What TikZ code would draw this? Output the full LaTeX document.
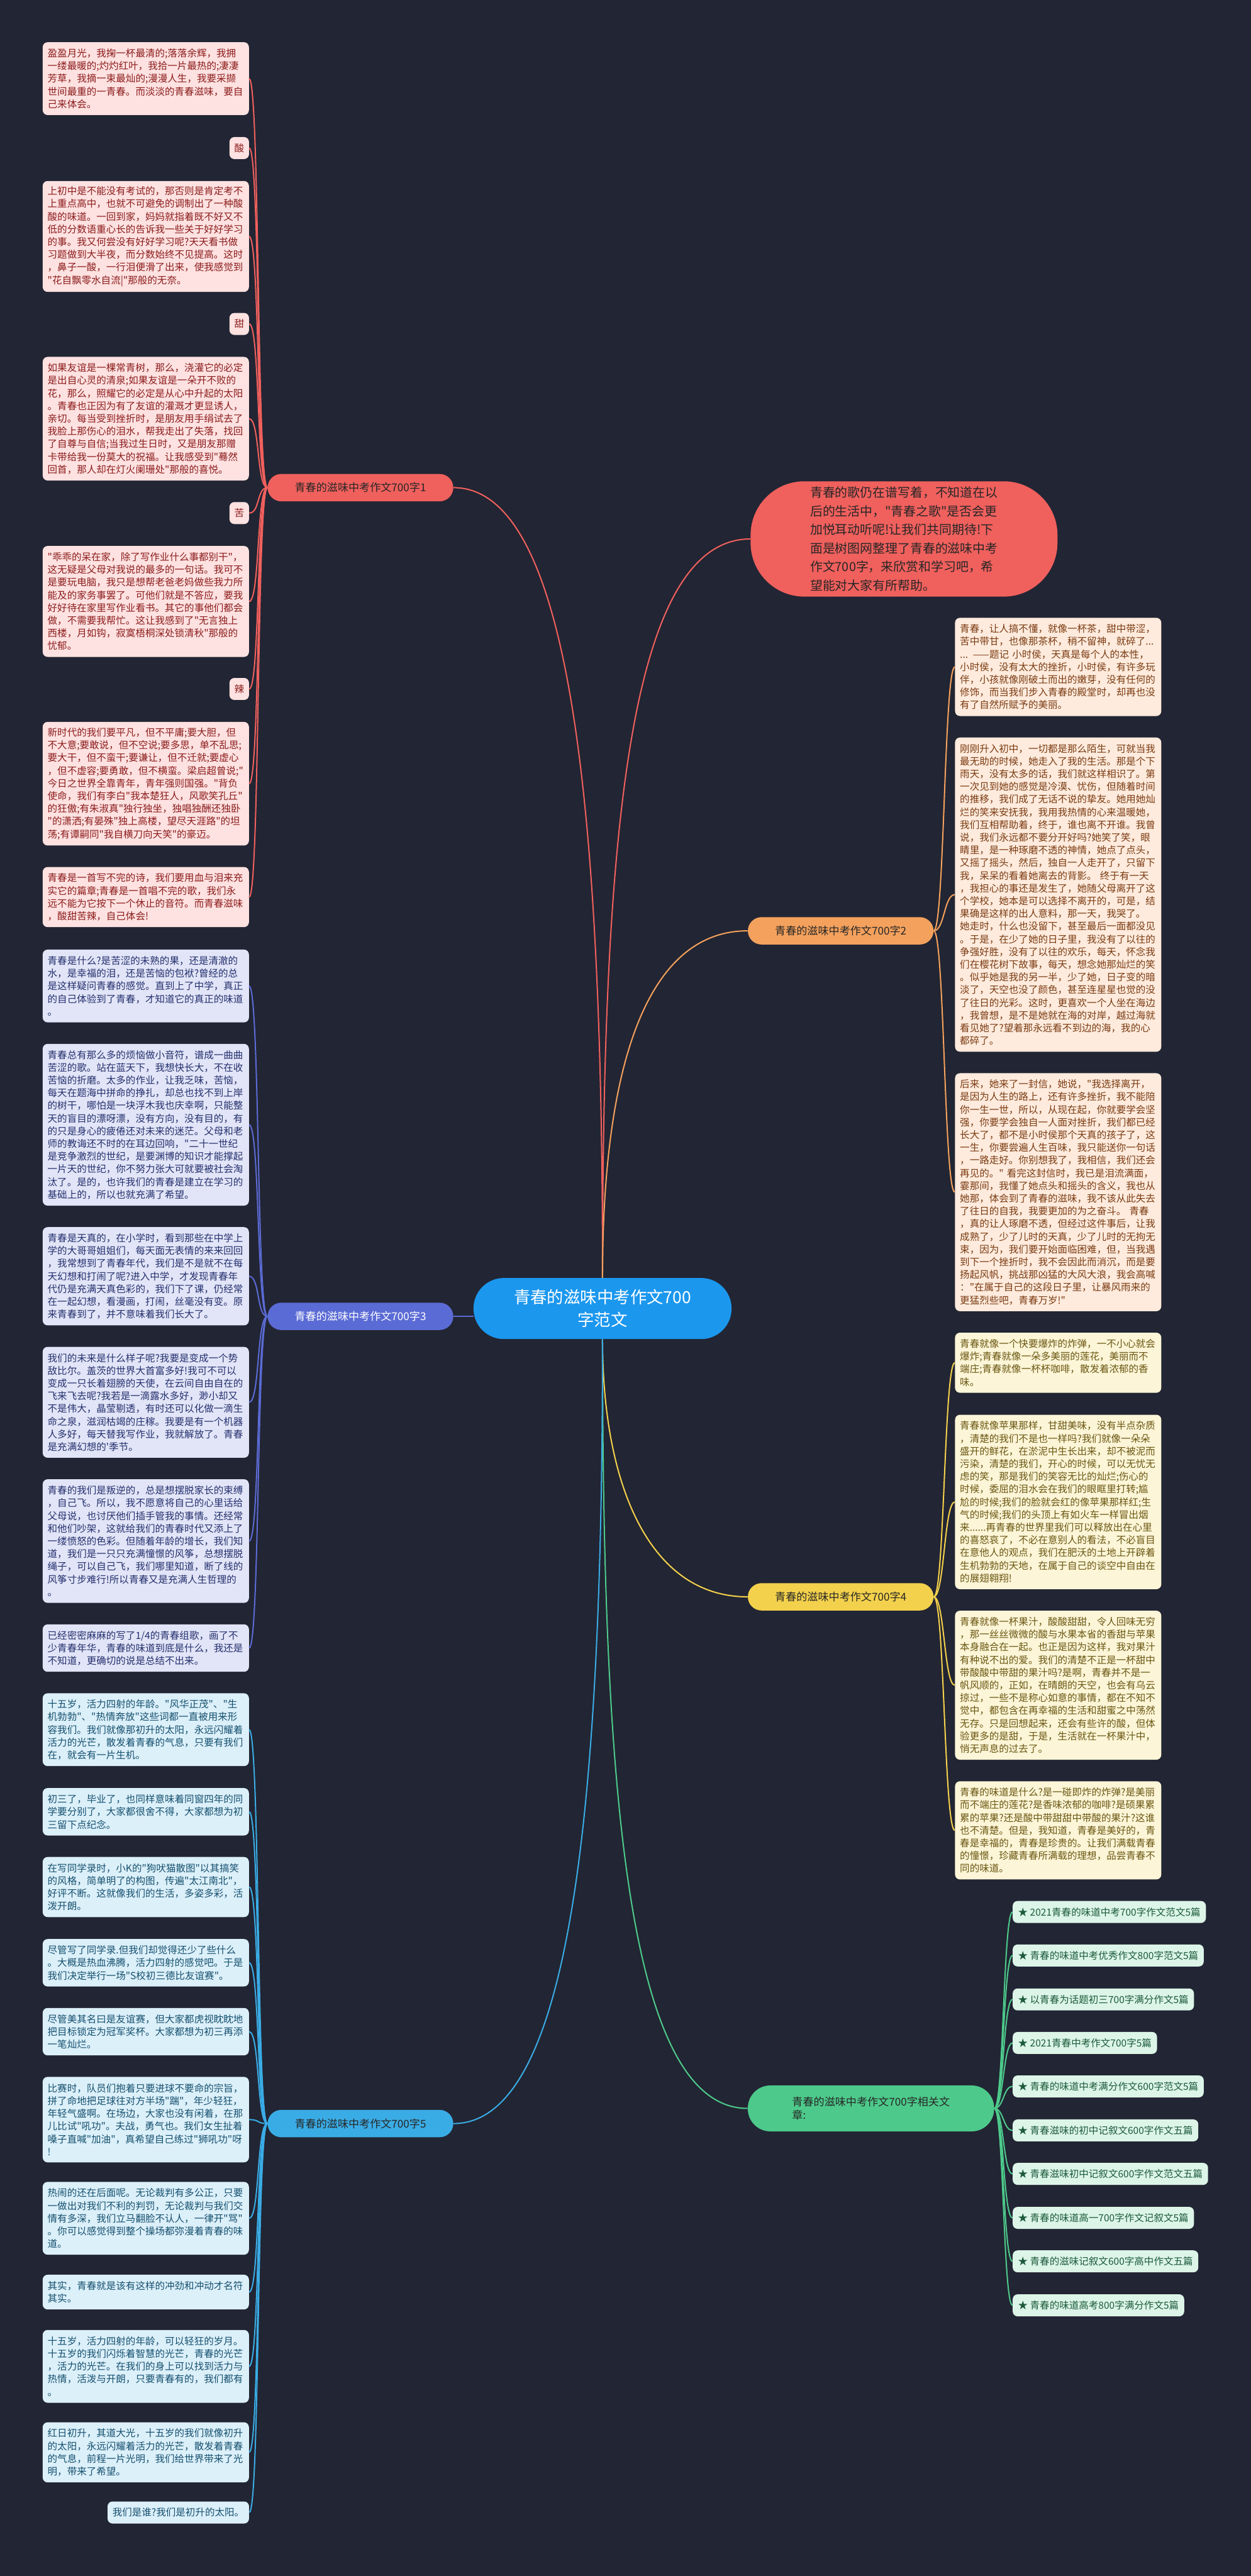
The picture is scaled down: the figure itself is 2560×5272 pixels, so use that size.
\documentclass[tikz,border=0pt]{standalone}
\usepackage{fontspec}
\newfontfamily\cjk{Noto Sans CJK SC}
\newcommand\bodyf{\cjk\fontsize{10pt}{13pt}\selectfont}
\newcommand\labf{\cjk\fontsize{11pt}{14pt}\selectfont}
\newcommand\ctrf{\cjk\fontsize{17pt}{23pt}\selectfont}
\newcommand\rnf{\cjk\fontsize{12.8pt}{19pt}\selectfont}
\definecolor{bgc}{HTML}{222533}
\definecolor{redl}{HTML}{F0605D}\definecolor{redf}{HTML}{FDE2E1}\definecolor{redt}{HTML}{8C1C1C}
\definecolor{purl}{HTML}{5B6BD5}\definecolor{purf}{HTML}{E2E5F7}\definecolor{purt}{HTML}{24306E}
\definecolor{blul}{HTML}{3AACE5}\definecolor{bluf}{HTML}{DCF0FA}\definecolor{blut}{HTML}{15506E}
\definecolor{oral}{HTML}{F4A15D}\definecolor{oraf}{HTML}{FEEBDD}\definecolor{orat}{HTML}{7A3B12}
\definecolor{yell}{HTML}{F3D14C}\definecolor{yelf}{HTML}{FCF5D7}\definecolor{yelt}{HTML}{6A5712}
\definecolor{grel}{HTML}{4DCA8B}\definecolor{gref}{HTML}{DCF5E8}\definecolor{gret}{HTML}{1D5A3B}
\definecolor{ctrc}{HTML}{1B97EE}
\begin{document}
\begin{tikzpicture}[x=0.5pt,y=-0.5pt,
  box/.style={rounded corners=5pt, align=left, text width=201pt, inner xsep=5pt, inner ysep=0pt, anchor=north west, font=\bodyf},
  nl/.style={minimum height=13pt*#1+9.5pt},
  tag/.style={rounded corners=5pt, inner xsep=5pt, inner ysep=0pt, minimum height=22.5pt, font=\bodyf, anchor=east},
  lab/.style={rounded corners=14pt, minimum width=190pt, minimum height=28pt, inner xsep=8pt, inner ysep=0pt, font=\labf},
  item/.style={rounded corners=5pt, inner xsep=5.5pt, inner ysep=0pt, minimum height=22.5pt, font=\bodyf, anchor=west, fill=gref, text=gret},
  rb/.style={box, fill=redf, text=redt}, rt/.style={tag, fill=redf, text=redt},
  pb/.style={box, fill=purf, text=purt},
  bb/.style={box, fill=bluf, text=blut},
  ob/.style={box, fill=oraf, text=orat},
  yb/.style={box, fill=yelf, text=yelt},
  conn/.style={line width=1.3pt}
]
\fill[bgc] (0,0) rectangle (2560,5272);

% center
\node[fill=ctrc, text=white, rounded corners=31pt, minimum width=264pt, minimum height=62.5pt, align=center, font=\ctrf] (ctr) at (1233,2678) {青春的滋味中考作文700\\字范文};

% red intro node
\node[fill=redl, text=black!85, rounded corners=55pt, minimum width=314pt, minimum height=118pt, align=left, font=\rnf] (rn) at (1850,1103) {青春的歌仍在谱写着，不知道在以\\后的生活中，"青春之歌"是否会更\\加悦耳动听呢!让我们共同期待!下\\面是树图网整理了青春的滋味中考\\作文700字，来欣赏和学习吧，希\\望能对大家有所帮助。};

% branch labels
\node[lab, fill=redl, text=black!85, anchor=east] (L1) at (928,998) {青春的滋味中考作文700字1};
\node[lab, fill=purl, text=white, anchor=east] (L3) at (928,2694) {青春的滋味中考作文700字3};
\node[lab, fill=blul, text=black!85, anchor=east] (L5) at (928,4346) {青春的滋味中考作文700字5};
\node[lab, fill=oral, text=black!85, anchor=west] (L2) at (1530,1905) {青春的滋味中考作文700字2};
\node[lab, fill=yell, text=black!85, anchor=west] (L4) at (1530,3268) {青春的滋味中考作文700字4};
\node[lab, fill=grel, text=black!85, anchor=west, minimum width=252pt, minimum height=47pt, rounded corners=23pt, align=left] (LG) at (1530,4315) {青春的滋味中考作文700字相关文\\章:};

% branch 1 children
\node[rb, nl=5] (a1) at (87,86) {盈盈月光，我掬一杯最清的;落落余辉，我拥\\一缕最暖的;灼灼红叶，我拾一片最热的;凄凄\\芳草，我摘一束最灿的;漫漫人生，我要采撷\\世间最重的一青春。而淡淡的青春滋味，要自\\己来体会。};
\node[rt] (a2) at (510,303) {酸};
\node[rb, nl=8] (a3) at (87,370) {上初中是不能没有考试的，那否则是肯定考不\\上重点高中，也就不可避免的调制出了一种酸\\酸的味道。一回到家，妈妈就指着既不好又不\\低的分数语重心长的告诉我一些关于好好学习\\的事。我又何尝没有好好学习呢?天天看书做\\习题做到大半夜，而分数始终不见提高。这时\\，鼻子一酸，一行泪便滑了出来，使我感觉到\\"花自飘零水自流|"那般的无奈。};
\node[rt] (a4) at (510,663) {甜};
\node[rb, nl=9] (a5) at (87,730) {如果友谊是一棵常青树，那么，浇灌它的必定\\是出自心灵的清泉;如果友谊是一朵开不败的\\花，那么，照耀它的必定是从心中升起的太阳\\。青春也正因为有了友谊的灌溉才更显诱人，\\亲切。每当受到挫折时，是朋友用手绢试去了\\我脸上那伤心的泪水，帮我走出了失落，找回\\了自尊与自信;当我过生日时，又是朋友那赠\\卡带给我一份莫大的祝福。让我感受到"蓦然\\回首，那人却在灯火阑珊处"那般的喜悦。};
\node[rt] (a6) at (510,1050) {苦};
\node[rb, nl=8] (a7) at (87,1117) {"乖乖的呆在家，除了写作业什么事都别干"，\\这无疑是父母对我说的最多的一句话。我可不\\是要玩电脑，我只是想帮老爸老妈做些我力所\\能及的家务事罢了。可他们就是不答应，要我\\好好待在家里写作业看书。其它的事他们都会\\做，不需要我帮忙。这让我感到了"无言独上\\西楼，月如钩，寂寞梧桐深处锁清秋"那般的\\忧郁。};
\node[rt] (a8) at (510,1410) {辣};
\node[rb, nl=9] (a9) at (87,1477) {新时代的我们要平凡，但不平庸;要大胆，但\\不大意;要敢说，但不空说;要多思，单不乱思;\\要大干，但不蛮干;要谦让，但不迁就;要虚心\\，但不虚容;要勇敢，但不横蛮。梁启超曾说;"\\今日之世界全靠青年，青年强则国强。"背负\\使命，我们有李白"我本楚狂人，风歌笑孔丘"\\的狂傲;有朱淑真"独行独坐，独唱独酬还独卧\\"的潇洒;有晏殊"独上高楼，望尽天涯路"的坦\\荡;有谭嗣同"我自横刀向天笑"的豪迈。};
\node[rb, nl=4] (a10) at (87,1774) {青春是一首写不完的诗，我们要用血与泪来充\\实它的篇章;青春是一首唱不完的歌，我们永\\远不能为它按下一个休止的音符。而青春滋味\\，酸甜苦辣，自己体会!};

% branch 3 children
\node[pb, nl=5] (b1) at (87,1943) {青春是什么?是苦涩的未熟的果，还是清澈的\\水，是幸福的泪，还是苦恼的包袱?曾经的总\\是这样疑问青春的感觉。直到上了中学，真正\\的自己体验到了青春，才知道它的真正的味道\\。};
\node[pb, nl=12] (b2) at (87,2136) {青春总有那么多的烦恼做小音符，谱成一曲曲\\苦涩的歌。站在蓝天下，我想快长大，不在收\\苦恼的折磨。太多的作业，让我乏味，苦恼，\\每天在题海中拼命的挣扎，却总也找不到上岸\\的树干，哪怕是一块浮木我也庆幸啊，只能整\\天的盲目的漂呀漂，没有方向，没有目的，有\\的只是身心的疲倦还对未来的迷茫。父母和老\\师的教诲还不时的在耳边回响，"二十一世纪\\是竞争激烈的世纪，是要渊博的知识才能撑起\\一片天的世纪，你不努力张大可就要被社会淘\\汰了。是的，也许我们的青春是建立在学习的\\基础上的，所以也就充满了希望。};
\node[pb, nl=7] (b3) at (87,2511) {青春是天真的，在小学时，看到那些在中学上\\学的大哥哥姐姐们，每天面无表情的来来回回\\，我常想到了青春年代，我们是不是就不在每\\天幻想和打闹了呢?进入中学，才发现青春年\\代仍是充满天真色彩的，我们下了课，仍经常\\在一起幻想，看漫画，打闹，丝毫没有变。原\\来青春到了，并不意味着我们长大了。};
\node[pb, nl=8] (b4) at (87,2756) {我们的未来是什么样子呢?我要是变成一个势\\敌比尔。盖茨的世界大首富多好!我可不可以\\变成一只长着翅膀的天使，在云间自由自在的\\飞来飞去呢?我若是一滴露水多好，渺小却又\\不是伟大，晶莹剔透，有时还可以化做一滴生\\命之泉，滋润枯竭的庄稼。我要是有一个机器\\人多好，每天替我写作业，我就解放了。青春\\是充满幻想的'季节。};
\node[pb, nl=9] (b5) at (87,3027) {青春的我们是叛逆的，总是想摆脱家长的束缚\\，自己飞。所以，我不愿意将自己的心里话给\\父母说，也讨厌他们插手管我的事情。还经常\\和他们吵架，这就给我们的青春时代又添上了\\一缕愤怒的色彩。但随着年龄的增长，我们知\\道，我们是一只只充满憧憬的风筝，总想摆脱\\绳子，可以自己飞，我们哪里知道，断了线的\\风筝寸步难行!所以青春又是充满人生哲理的\\。};
\node[pb, nl=3] (b6) at (87,3324) {已经密密麻麻的写了1/4的青春组歌，画了不\\少青春年华，青春的味道到底是什么，我还是\\不知道，更确切的说是总结不出来。};

% branch 5 children
\node[bb, nl=5] (c1) at (87,3465) {十五岁，活力四射的年龄。"风华正茂"、"生\\机勃勃"、"热情奔放"这些词都一直被用来形\\容我们。我们就像那初升的太阳，永远闪耀着\\活力的光芒，散发着青春的气息，只要有我们\\在，就会有一片生机。};
\node[bb, nl=3] (c2) at (87,3659) {初三了，毕业了，也同样意味着同窗四年的同\\学要分别了，大家都很舍不得，大家都想为初\\三留下点纪念。};
\node[bb, nl=4] (c3) at (87,3800) {在写同学录时，小K的"狗吠猫散图"以其搞笑\\的风格，简单明了的构图，传遍"太江南北"，\\好评不断。这就像我们的生活，多姿多彩，活\\泼开朗。};
\node[bb, nl=3] (c4) at (87,3968) {尽管写了同学录.但我们却觉得还少了些什么\\。大概是热血沸腾，活力四射的感觉吧。于是\\我们决定举行一场"S校初三德比友谊赛"。};
\node[bb, nl=3] (c5) at (87,4109) {尽管美其名曰是友谊赛，但大家都虎视眈眈地\\把目标锁定为冠军奖杯。大家都想为初三再添\\一笔灿烂。};
\node[bb, nl=6] (c6) at (87,4250) {比赛时，队员们抱着只要进球不要命的宗旨，\\拼了命地把足球往对方半场"踹"，年少轻狂，\\年轻气盛啊。在场边，大家也没有闲着，在那\\儿比试"吼功"。夫战，勇气也。我们女生扯着\\嗓子直喊"加油"，真希望自己练过"狮吼功"呀\\!};
\node[bb, nl=5] (c7) at (87,4465) {热闹的还在后面呢。无论裁判有多公正，只要\\一做出对我们不利的判罚，无论裁判与我们交\\情有多深，我们立马翻脸不认人，一律开"骂"\\。你可以感觉得到整个操场都弥漫着青春的味\\道。};
\node[bb, nl=2] (c8) at (87,4655) {其实，青春就是该有这样的冲劲和冲动才名符\\其实。};
\node[bb, nl=5] (c9) at (87,4768) {十五岁，活力四射的年龄，可以轻狂的岁月。\\十五岁的我们闪烁着智慧的光芒，青春的光芒\\，活力的光芒。在我们的身上可以找到活力与\\热情，活泼与开朗，只要青春有的，我们都有\\。};
\node[bb, nl=4] (c10) at (87,4957) {红日初升，其道大光，十五岁的我们就像初升\\的太阳，永远闪耀着活力的光芒，散发着青春\\的气息，前程一片光明，我们给世界带来了光\\明，带来了希望。};
\node[tag, fill=bluf, text=blut] (c11) at (510,5142) {我们是谁?我们是初升的太阳。};

% branch 2 children
\node[ob, nl=7] (o1) at (1954,1264) {青春，让人搞不懂，就像一杯茶，甜中带涩，\\苦中带甘，也像那茶杯，稍不留神，就碎了...\\... ——题记 小时侯，天真是每个人的本性，\\小时侯，没有太大的挫折，小时侯，有许多玩\\伴，小孩就像刚破土而出的嫩芽，没有任何的\\修饰，而当我们步入青春的殿堂时，却再也没\\有了自然所赋予的美丽。};
\node[ob, nl=24] (o2) at (1954,1509) {刚刚升入初中，一切都是那么陌生，可就当我\\最无助的时候，她走入了我的生活。那是个下\\雨天，没有太多的话，我们就这样相识了。第\\一次见到她的感觉是冷漠、忧伤，但随着时间\\的推移，我们成了无话不说的挚友。她用她灿\\烂的笑来安抚我，我用我热情的心来温暖她，\\我们互相帮助着，终于，谁也离不开谁。我曾\\说，我们永远都不要分开好吗?她笑了笑，眼\\睛里，是一种琢磨不透的神情，她点了点头，\\又摇了摇头，然后，独自一人走开了，只留下\\我，呆呆的看着她离去的背影。 终于有一天\\，我担心的事还是发生了，她随父母离开了这\\个学校，她本是可以选择不离开的，可是，结\\果确是这样的出人意料，那一天，我哭了。\\她走时，什么也没留下，甚至最后一面都没见\\。于是，在少了她的日子里，我没有了以往的\\争强好胜，没有了以往的欢乐，每天，怀念我\\们在樱花树下故事，每天，想念她那灿烂的笑\\。似乎她是我的另一半，少了她，日子变的暗\\淡了，天空也没了颜色，甚至连星星也觉的没\\了往日的光彩。这时，更喜欢一个人坐在海边\\，我曾想，是不是她就在海的对岸，越过海就\\看见她了?望着那永远看不到边的海，我的心\\都碎了。};
\node[ob, nl=18] (o3) at (1954,2196) {后来，她来了一封信，她说，"我选择离开，\\是因为人生的路上，还有许多挫折，我不能陪\\你一生一世，所以，从现在起，你就要学会坚\\强，你要学会独自一人面对挫折，我们都已经\\长大了，都不是小时侯那个天真的孩子了，这\\一生，你要尝遍人生百味，我只能送你一句话\\，一路走好。你别想我了，我相信，我们还会\\再见的。" 看完这封信时，我已是泪流满面，\\霎那间，我懂了她点头和摇头的含义，我也从\\她那，体会到了青春的滋味，我不该从此失去\\了往日的自我，我要更加的为之奋斗。 青春\\，真的让人琢磨不透，但经过这件事后，让我\\成熟了，少了儿时的天真，少了儿时的无拘无\\束，因为，我们要开始面临困难，但，当我遇\\到下一个挫折时，我不会因此而消沉，而是要\\扬起风帆，挑战那凶猛的大风大浪，我会高喊\\："在属于自己的这段日子里，让暴风雨来的\\更猛烈些吧，青春万岁!"};

% branch 4 children
\node[yb, nl=4] (y1) at (1954,2727) {青春就像一个快要爆炸的炸弹，一不小心就会\\爆炸;青春就像一朵多美丽的莲花，美丽而不\\端庄;青春就像一杯杯咖啡，散发着浓郁的香\\味。};
\node[yb, nl=13] (y2) at (1954,2895) {青春就像苹果那样，甘甜美味，没有半点杂质\\，清楚的我们不是也一样吗?我们就像一朵朵\\盛开的鲜花，在淤泥中生长出来，却不被泥而\\污染，清楚的我们，开心的时候，可以无忧无\\虑的笑，那是我们的笑容无比的灿烂;伤心的\\时候，委屈的泪水会在我们的眼眶里打转;尴\\尬的时候;我们的脸就会红的像苹果那样红;生\\气的时候;我们的头顶上有如火车一样冒出烟\\来......再青春的世界里我们可以释放出在心里\\的喜怒哀了，不必在意别人的看法，不必盲目\\在意他人的观点，我们在肥沃的土地上开辟着\\生机勃勃的天地，在属于自己的谈空中自由在\\的展翅翱翔!};
\node[yb, nl=11] (y3) at (1954,3296) {青春就像一杯果汁，酸酸甜甜，令人回味无穷\\，那一丝丝微微的酸与水果本省的香甜与苹果\\本身融合在一起。也正是因为这样，我对果汁\\有种说不出的爱。我们的清楚不正是一杯甜中\\带酸酸中带甜的果汁吗?是啊，青春并不是一\\帆风顺的，正如，在晴朗的天空，也会有乌云\\掠过，一些不是称心如意的事情，都在不知不\\觉中，都包含在再幸福的生活和甜蜜之中荡然\\无存。只是回想起来，还会有些许的酸，但体\\验更多的是甜，于是，生活就在一杯果汁中，\\悄无声息的过去了。};
\node[yb, nl=7] (y4) at (1954,3645) {青春的味道是什么?是一碰即炸的炸弹?是美丽\\而不端庄的莲花?是香味浓郁的咖啡?是硕果累\\累的苹果?还是酸中带甜甜中带酸的果汁?这谁\\也不清楚。但是，我知道，青春是美好的，青\\春是幸福的，青春是珍贵的。让我们满载青春\\的憧憬，珍藏青春所满载的理想，品尝青春不\\同的味道。};

% related articles
\node[item] (g1) at (2072,3913) {★ 2021青春的味道中考700字作文范文5篇};
\node[item] (g2) at (2072,4002) {★ 青春的味道中考优秀作文800字范文5篇};
\node[item] (g3) at (2072,4092) {★ 以青春为话题初三700字满分作文5篇};
\node[item] (g4) at (2072,4181) {★ 2021青春中考作文700字5篇};
\node[item] (g5) at (2072,4270) {★ 青春的味道中考满分作文600字范文5篇};
\node[item] (g6) at (2072,4360) {★ 青春滋味的初中记叙文600字作文五篇};
\node[item] (g7) at (2072,4449) {★ 青春滋味初中记叙文600字作文范文五篇};
\node[item] (g8) at (2072,4539) {★ 青春的味道高一700字作文记叙文5篇};
\node[item] (g9) at (2072,4628) {★ 青春的滋味记叙文600字高中作文五篇};
\node[item] (g10) at (2072,4718) {★ 青春的味道高考800字满分作文5篇};

% connectors from center
\draw[conn, redl] (ctr.north) .. controls +(0,-900) and +(250,0) .. (L1.east);
\draw[conn, redl] (ctr.north) .. controls +(0,-900) and +(-250,0) .. (rn.west);
\draw[conn, oral] (ctr.north) .. controls +(0,-450) and +(-200,0) .. (L2.west);
\draw[conn, purl] (L3.east) -- (L3.east -| ctr.west);
\draw[conn, yell] (ctr.south) .. controls +(0,300) and +(-200,0) .. (L4.west);
\draw[conn, grel] (ctr.south) .. controls +(0,900) and +(-250,0) .. (LG.west);
\draw[conn, blul] (ctr.south) .. controls +(0,900) and +(250,0) .. (L5.east);

% connectors to children
\foreach \n in {a1,a2,a3,a4,a5,a6,a7,a8,a9,a10}
  \draw[conn, redl] (L1.west) .. controls +(-22,0) and +(22,0) .. (\n.east);
\foreach \n in {b1,b2,b3,b4,b5,b6}
  \draw[conn, purl] (L3.west) .. controls +(-22,0) and +(22,0) .. (\n.east);
\foreach \n in {c1,c2,c3,c4,c5,c6,c7,c8,c9,c10,c11}
  \draw[conn, blul] (L5.west) .. controls +(-22,0) and +(22,0) .. (\n.east);
\foreach \n in {o1,o2,o3}
  \draw[conn, oral] (L2.east) .. controls +(22,0) and +(-22,0) .. (\n.west);
\foreach \n in {y1,y2,y3,y4}
  \draw[conn, yell] (L4.east) .. controls +(22,0) and +(-22,0) .. (\n.west);
\foreach \n in {g1,g2,g3,g4,g5,g6,g7,g8,g9,g10}
  \draw[conn, grel] (LG.east) .. controls +(19,0) and +(-19,0) .. (\n.west);
\end{tikzpicture}
\end{document}
